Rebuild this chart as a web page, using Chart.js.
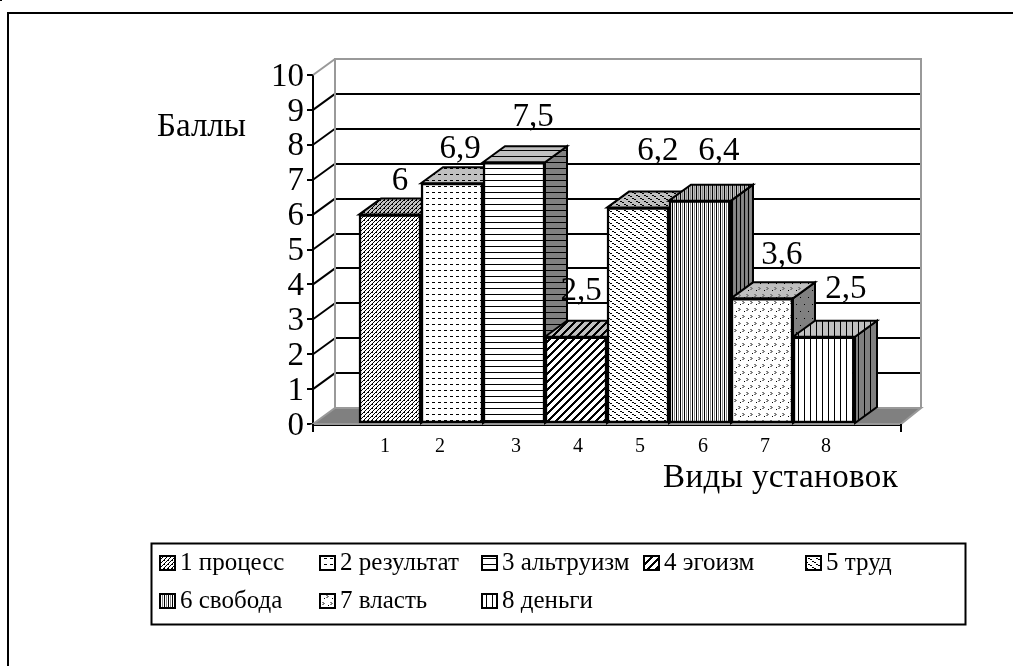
<!DOCTYPE html>
<html>
<head>
<meta charset="utf-8">
<style>
  html, body { margin: 0; padding: 0; background: #fff; }
  canvas { display: block; }
</style>
<script src="https://cdn.jsdelivr.net/npm/chart.js@4"></script>
</head>
<body>
<canvas id="chart" width="1013" height="666"></canvas>
<script>
const categories = ['1', '2', '3', '4', '5', '6', '7', '8'];
const values = [6, 6.9, 7.5, 2.5, 6.2, 6.4, 3.6, 2.5];
const valueLabels = ['6', '6,9', '7,5', '2,5', '6,2', '6,4', '3,6', '2,5'];
const legendNames = ['1 процесс', '2 результат', '3 альтруизм', '4 эгоизм', '5 труд', '6 свобода', '7 власть', '8 деньги'];
const yTicks = [0, 1, 2, 3, 4, 5, 6, 7, 8, 9, 10];

const FONT = '"Liberation Serif", "Times New Roman", serif';
const DEPTH_X = 22, DEPTH_Y = 16;

// hand placed labels in the original, so small nudges from the bar top
const labelNudge = [[10, -33], [8, -34], [19, -45], [5, -45], [20, -56], [19, -49], [20, -43], [22, -47]];
const tickNudge = [-5, -12, 2, 2, 2, 3, 3, 2];
const legendCols = [160, 320, 482, 644, 806];
const legendRows = [563, 601];

// small tile patterns, one per bar
function tile(w, h, paint, bg) {
  const c = document.createElement('canvas');
  c.width = w; c.height = h;
  const g = c.getContext('2d');
  if (bg) { g.fillStyle = bg; g.fillRect(0, 0, w, h); }
  g.fillStyle = '#000';
  paint(g);
  return g.createPattern(c, 'repeat');
}
function dots(list) {
  return g => list.forEach(p => g.fillRect(p[0], p[1], p[2] || 1, p[3] || 1));
}
const painters = [
  [4, 4, dots([[0, 3], [1, 2], [2, 1], [3, 0], [0, 0]])],
  [6, 6, dots([[0, 0, 3, 1]])],
  [6, 6, dots([[0, 0, 6, 1]])],
  [8, 8, g => { for (let i = 0; i < 8; i++) { g.fillRect(i, 7 - i, 3, 1); g.fillRect(i - 8, 7 - i, 3, 1); } }],
  [8, 6, dots([[0, 0, 2, 1], [2, 1, 2, 1], [4, 3, 2, 1], [6, 4, 2, 1]])],
  [4, 1, g => { g.fillRect(0, 0, 1, 1); g.fillStyle = '#888'; g.fillRect(2, 0, 1, 1); }],
  [8, 14, g => {
    g.fillRect(0, 3, 1, 1); g.fillRect(4, 10, 1, 1);
    g.fillStyle = '#808080';
    [[2, 0], [6, 7]].forEach(o => {
      [[0, 0], [1, 0], [1, 1], [2, 1], [0, 2], [1, 2]].forEach(p => g.fillRect((o[0] + p[0]) % 8, o[1] + p[1], 1, 1));
    });
  }],
  [6, 6, dots([[0, 0, 1, 6]])]
];
const frontFills = painters.map(p => tile(p[0], p[1], p[2], '#fff'));
const topFills = painters.map(p => tile(p[0], p[1], p[2], '#c0c0c0'));
const sideFills = painters.map(p => tile(p[0], p[1], p[2], '#808080'));

function poly(ctx, pts, fill, stroke, lw) {
  ctx.beginPath();
  pts.forEach((p, i) => i ? ctx.lineTo(p[0], p[1]) : ctx.moveTo(p[0], p[1]));
  ctx.closePath();
  if (fill) { ctx.fillStyle = fill; ctx.fill(); }
  if (stroke) { ctx.strokeStyle = stroke; ctx.lineWidth = lw; ctx.stroke(); }
}

// back wall, left wall and floor, under the bars
const wallPlugin = {
  id: 'wall',
  beforeDatasetsDraw(chart) {
    const ctx = chart.ctx, a = chart.chartArea, y = chart.scales.y;
    ctx.save();
    ctx.lineCap = 'butt';
    const top = y.getPixelForValue(10), zero = y.getPixelForValue(0);
    const wl = a.left + DEPTH_X, wr = a.right + 20;
    ctx.strokeStyle = '#000';
    ctx.lineWidth = 2;
    yTicks.slice(1, -1).forEach(t => {
      const py = Math.round(y.getPixelForValue(t));
      ctx.beginPath();
      ctx.moveTo(wl, py - DEPTH_Y); ctx.lineTo(wr, py - DEPTH_Y);
      ctx.stroke();
    });
    yTicks.slice(1).forEach(t => {
      const py = y.getPixelForValue(t);
      ctx.beginPath();
      ctx.strokeStyle = t === 10 ? '#999' : '#000';
      ctx.moveTo(a.left, py); ctx.lineTo(wl, py - DEPTH_Y);
      ctx.stroke();
    });
    poly(ctx, [[a.left, zero], [wl, zero - DEPTH_Y], [wr, zero - DEPTH_Y], [a.right, zero]], '#808080', '#999', 2);
    ctx.strokeStyle = '#999';
    ctx.lineWidth = 2;
    ctx.beginPath();
    ctx.moveTo(wl, zero - DEPTH_Y); ctx.lineTo(wl, top - DEPTH_Y); ctx.lineTo(wr, top - DEPTH_Y); ctx.lineTo(wr, zero - DEPTH_Y);
    ctx.stroke();

    // tops and sides go left to right so the next bar covers the previous side
    chart.getDatasetMeta(0).data.forEach((bar, i) => {
      const half = bar.width / 2, l = bar.x - half, r = bar.x + half, t = bar.y, b = bar.base;
      poly(ctx, [[r, t], [r + DEPTH_X, t - DEPTH_Y], [r + DEPTH_X, b - DEPTH_Y], [r, b]], sideFills[i], '#000', 2);
      poly(ctx, [[l, t], [l + DEPTH_X, t - DEPTH_Y], [r + DEPTH_X, t - DEPTH_Y], [r, t]], topFills[i], '#000', 2);
    });
    ctx.restore();
  }
};

// value labels, axis captions, legend box and outer frame
const notesPlugin = {
  id: 'notes',
  afterDraw(chart) {
    const ctx = chart.ctx, a = chart.chartArea, x = chart.scales.x;
    ctx.save();
    ctx.fillStyle = '#000';
    ctx.strokeStyle = '#000';

    ctx.fillRect(0, 0, 2, 1);
    ctx.lineWidth = 2;
    ctx.beginPath();
    ctx.moveTo(8, 666); ctx.lineTo(8, 13); ctx.lineTo(1013, 13);
    ctx.stroke();

    ctx.beginPath();
    ctx.moveTo(a.left, a.bottom); ctx.lineTo(a.left, a.bottom + 8);
    ctx.moveTo(a.right, a.bottom); ctx.lineTo(a.right, a.bottom + 8);
    ctx.stroke();

    ctx.textBaseline = 'middle';
    ctx.textAlign = 'center';
    ctx.font = '33px ' + FONT;
    chart.getDatasetMeta(0).data.forEach((bar, i) => {
      ctx.fillText(valueLabels[i], bar.x + labelNudge[i][0], bar.y + labelNudge[i][1]);
    });

    ctx.font = '20px ' + FONT;
    categories.forEach((c, i) => {
      ctx.fillText(c, x.getPixelForValue(i + 1) + tickNudge[i], a.bottom + 23);
    });

    ctx.textAlign = 'left';
    ctx.font = '33px ' + FONT;
    ctx.fillText('Баллы', 157, 127);
    ctx.letterSpacing = '0.4px';
    ctx.fillText('Виды установок', 663, 478);
    ctx.letterSpacing = '0px';

    // legend
    ctx.lineWidth = 2;
    ctx.strokeRect(151.5, 543.5, 814, 81);
    ctx.font = '25px ' + FONT;
    legendNames.forEach((name, i) => {
      const lx = legendCols[i % 5], ly = legendRows[Math.floor(i / 5)];
      poly(ctx, [[lx, ly - 7], [lx + 15, ly - 7], [lx + 15, ly + 7], [lx, ly + 7]], frontFills[i], '#000', 2);
      ctx.fillStyle = '#000';
      ctx.fillText(name, lx + 20, ly);
    });
    ctx.restore();
  }
};

new Chart(document.getElementById('chart'), {
  type: 'bar',
  data: {
    labels: categories.map(Number),
    datasets: [{
      data: values.map((v, i) => ({ x: i + 1, y: v })),
      backgroundColor: frontFills,
      borderColor: '#000',
      borderWidth: 2.5,
      borderSkipped: false,
      barPercentage: 1,
      categoryPercentage: 1
    }]
  },
  options: {
    responsive: false,
    animation: false,
    layout: { padding: { left: 253, right: 112, top: 75, bottom: 202 } },
    plugins: { legend: { display: false }, tooltip: { enabled: false } },
    scales: {
      x: {
        type: 'linear',
        offset: false,
        min: -0.242,
        max: 9.242,
        afterFit(s) { s.height = 40; },
        ticks: { display: false },
        grid: { display: false },
        border: { color: '#000', width: 3 }
      },
      y: {
        min: 0,
        max: 10,
        afterFit(s) { s.width = 60; },
        afterBuildTicks(s) { s.ticks = yTicks.map(v => ({ value: v })); },
        ticks: { color: '#000', padding: 3, autoSkip: false, labelOffset: 2, font: { family: FONT, size: 33 } },
        grid: { drawOnChartArea: false, color: '#000', lineWidth: 2, tickLength: 6 },
        border: { color: '#000', width: 2 }
      }
    }
  },
  plugins: [wallPlugin, notesPlugin]
});
</script>
</body>
</html>
